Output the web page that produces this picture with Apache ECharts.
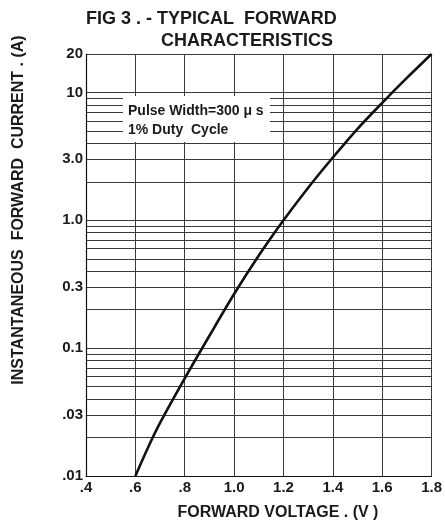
<!DOCTYPE html>
<html>
<head>
<meta charset="utf-8">
<script src="https://cdn.jsdelivr.net/npm/echarts@6/dist/echarts.min.js"></script>
<style>
html,body{margin:0;padding:0;background:#fff;}
#c{width:445px;height:525px;}
</style>
</head>
<body>
<div id="c"></div>
<script>
// Data (forward voltage V, instantaneous forward current A)
const voltage = [0.6, 0.65, 0.7, 0.8, 0.9, 1.0, 1.1, 1.2, 1.3, 1.4, 1.5, 1.6, 1.7, 1.8];
const current = [0.01, 0.0165, 0.026, 0.058, 0.125, 0.265, 0.53, 1.0, 1.8, 3.1, 5.2, 8.3, 13, 20];

const xTickValues = [0.4, 0.6, 0.8, 1.0, 1.2, 1.4, 1.6, 1.8];
const xTickLabels = ['.4', '.6', '.8', '1.0', '1.2', '1.4', '1.6', '1.8'];

const yTickValues = [0.01, 0.03, 0.1, 0.3, 1, 3, 10, 20];
const yTickLabels = ['.01', '.03', '0.1', '0.3', '1.0', '3.0', '10', '20'];

const yGridValues = [0.01, 0.02, 0.03, 0.04, 0.05, 0.06, 0.07, 0.08, 0.09,
  0.1, 0.2, 0.3, 0.4, 0.5, 0.6, 0.7, 0.8, 0.9,
  1, 2, 3, 4, 5, 6, 7, 8, 9, 10, 20];

const titleLine1 = 'FIG 3 . - TYPICAL  FORWARD';
const titleLine2 = 'CHARACTERISTICS';
const xName = 'FORWARD VOLTAGE . (V )';
const yName = 'INSTANTANEOUS  FORWARD  CURRENT . (A)';
const noteLine1 = 'Pulse Width=300 \u03bc s';
const noteLine2 = '1% Duty  Cycle';

function lookup(vals, labels, v) {
  for (let i = 0; i < vals.length; i++) {
    if (Math.abs(vals[i] - v) < 1e-6 * Math.max(1, vals[i])) return labels[i];
  }
  return '';
}

const FONT = "'Liberation Sans', Arial, sans-serif";
const chart = echarts.init(document.getElementById('c'), null, {renderer: 'canvas'});
const gridColor = '#3a3a3a';
const ink = '#1a1a1a';

chart.setOption({
  backgroundColor: '#fff',
  animation: false,
  grid: {left: 86, right: 9, top: 54, bottom: 49, containLabel: false},
  xAxis: {
    type: 'value', min: 0.4, max: 1.8, interval: 0.2,
    axisLine: {show: true, lineStyle: {color: '#111', width: 1.2}},
    axisTick: {show: false},
    splitLine: {show: true, lineStyle: {color: gridColor, width: 1}},
    axisLabel: {
      margin: 4, color: ink, fontFamily: FONT, fontWeight: 'bold', fontSize: 15,
      formatter: v => lookup(xTickValues, xTickLabels, v)
    }
  },
  yAxis: {
    type: 'log', logBase: 10, min: 0.01, max: 20,
    axisLine: {show: true, lineStyle: {color: '#111', width: 1.2}},
    axisTick: {show: false, customValues: yGridValues},
    splitLine: {show: true, lineStyle: {color: gridColor, width: 1}},
    axisLabel: {
      customValues: yTickValues,
      margin: 3, color: ink, fontFamily: FONT, fontWeight: 'bold', fontSize: 15,
      formatter: v => lookup(yTickValues, yTickLabels, v)
    }
  },
  graphic: [
    {type: 'rect', z: 100, shape: {x: 123, y: 96, width: 147, height: 46}, style: {fill: '#fff'}},
    {type: 'text', z: 101, x: 128, y: 111, style: {text: noteLine1, fill: ink, font: "bold 14px 'Liberation Sans', Arial, sans-serif", verticalAlign: 'middle'}},
    {type: 'text', z: 101, x: 128, y: 130, style: {text: noteLine2, fill: ink, font: "bold 14px 'Liberation Sans', Arial, sans-serif", verticalAlign: 'middle'}},
    {type: 'text', z: 101, x: 86, y: 19, style: {text: titleLine1, fill: ink, font: "bold 18px 'Liberation Sans', Arial, sans-serif", verticalAlign: 'middle'}},
    {type: 'text', z: 101, x: 247, y: 41, style: {text: titleLine2, fill: ink, font: "bold 18px 'Liberation Sans', Arial, sans-serif", align: 'center', verticalAlign: 'middle'}},
    {type: 'text', z: 101, x: 278, y: 513, style: {text: xName, fill: ink, font: "bold 16px 'Liberation Sans', Arial, sans-serif", align: 'center', verticalAlign: 'middle'}},
    {type: 'text', z: 101, x: 19, y: 210, rotation: Math.PI / 2, style: {text: yName, fill: ink, font: "bold 16px 'Liberation Sans', Arial, sans-serif", align: 'center', verticalAlign: 'middle'}}
  ],
  series: [{
    type: 'line',
    data: voltage.map((v, i) => [v, current[i]]),
    smooth: 0.3,
    symbol: 'none',
    lineStyle: {color: '#111', width: 2.6},
    z: 10
  }]
});
</script>
</body>
</html>
